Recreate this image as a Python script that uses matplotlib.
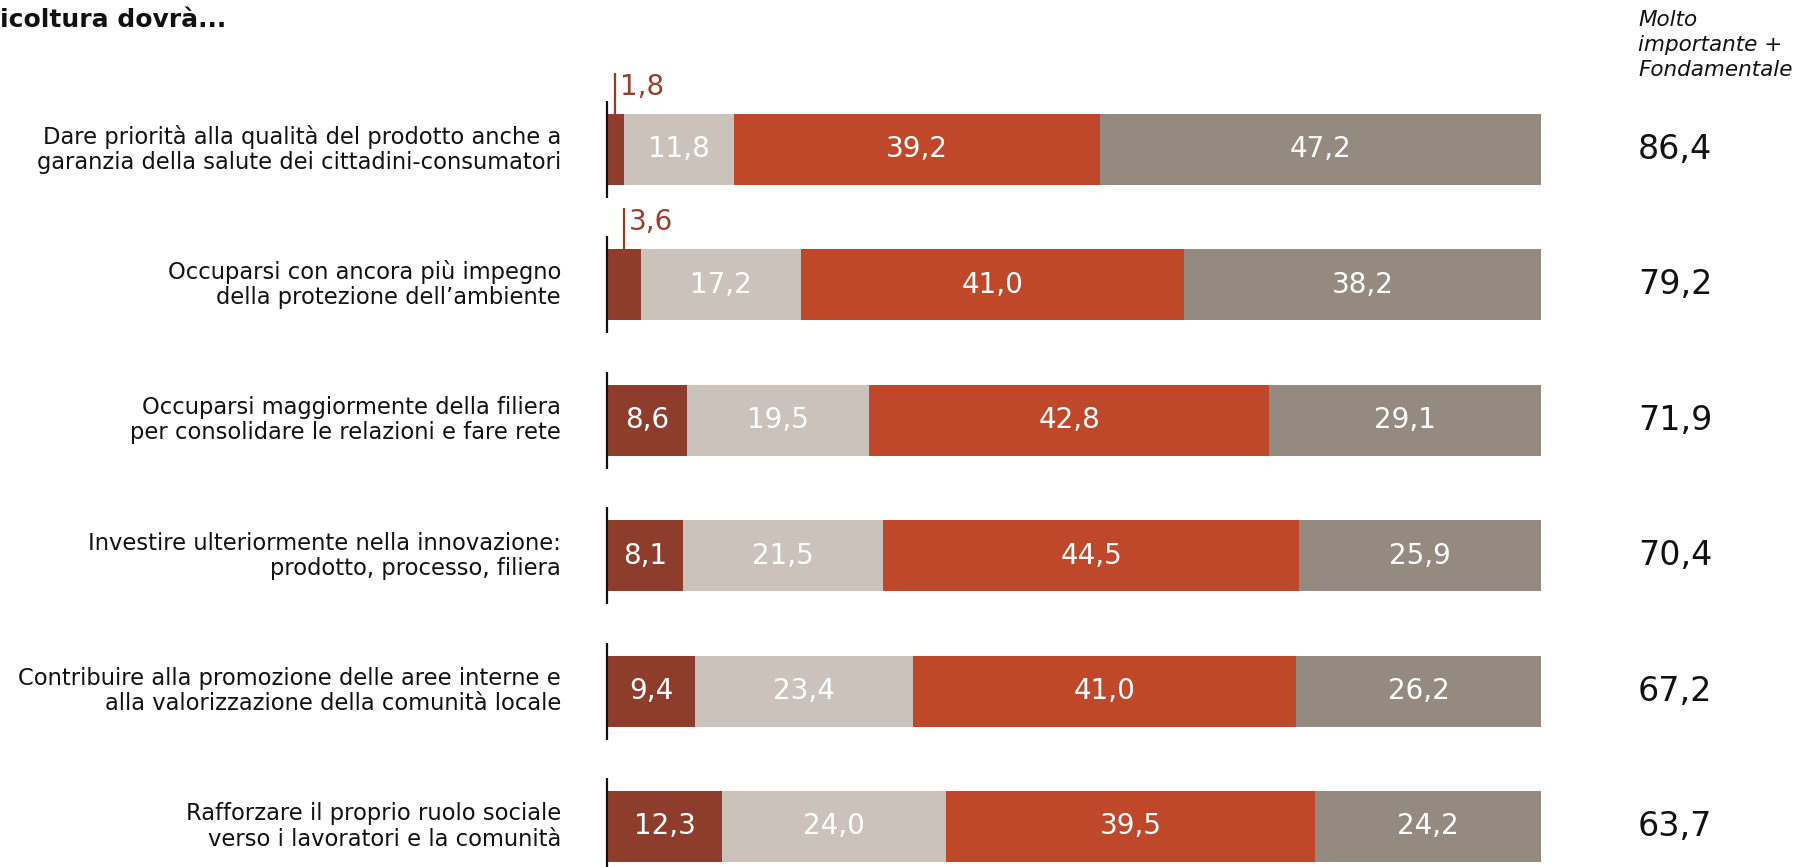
import matplotlib
matplotlib.use("Agg")
import matplotlib.pyplot as plt

plt.rcParams['font.family'] = ['DejaVu Sans']

categories = [
    "Dare priorità alla qualità del prodotto anche a\ngaranzia della salute dei cittadini-consumatori",
    "Occuparsi con ancora più impegno\ndella protezione dell’ambiente",
    "Occuparsi maggiormente della filiera\nper consolidare le relazioni e fare rete",
    "Investire ulteriormente nella innovazione:\nprodotto, processo, filiera",
    "Contribuire alla promozione delle aree interne e\nalla valorizzazione della comunità locale",
    "Rafforzare il proprio ruolo sociale\nverso i lavoratori e la comunità",
]
per_niente = [1.8, 3.6, 8.6, 8.1, 9.4, 12.3]
poco = [11.8, 17.2, 19.5, 21.5, 23.4, 24.0]
molto = [39.2, 41.0, 42.8, 44.5, 41.0, 39.5]
fondamentale = [47.2, 38.2, 29.1, 25.9, 26.2, 24.2]
molto_fond = [86.4, 79.2, 71.9, 70.4, 67.2, 63.7]

series = [per_niente, poco, molto, fondamentale]
colors = ["#8E3D2D", "#CAC2BB", "#C0482A", "#958A80"]

W, H = 1807, 867
fig = plt.figure(figsize=(W / 100, H / 100), dpi=100)
ax = fig.add_axes([0, 0, 1, 1])

# pixel layout helpers
x0, ppu = 607, 9.34        # axis x-position, pixels per percentage unit
y0, row = 149.5, 135.4     # first row centre, row spacing (pixels)
ax.set_xlim(-x0 / ppu, (W - x0) / ppu)
ax.set_ylim((H - y0) / row, -y0 / row)
ax.axis('off')

bar_h = 71 / row
fmt = lambda v: f"{v:.1f}".replace(".", ",")

for i in range(len(categories)):
    left = 0
    for vals, col in zip(series, colors):
        v = vals[i]
        ax.barh(i, v, left=left, height=bar_h, color=col, linewidth=0)
        if v >= 5:
            ax.text(left + v / 2, i, fmt(v), ha='center', va='center',
                    color='white', fontsize=20)
        else:
            top = i - bar_h / 2
            xc = left + v / 2
            ax.plot([xc, xc], [top, top - 41 / row], color=col, lw=1.6,
                    solid_capstyle='butt')
            ax.text(xc + 5 / ppu, top - 27 / row, fmt(v), ha='left',
                    va='center', color="#9A3F2C", fontsize=20)
        left += v
    # axis segment
    ax.plot([0, 0], [i - bar_h / 2 - 13 / row, i + bar_h / 2 + 13 / row],
            color='#111111', lw=1.6, solid_capstyle='butt')
    ax.text(-46 / ppu, i, categories[i], ha='right', va='center',
            fontsize=16.3, color='#111111', linespacing=1.12)
    ax.text((1638 - x0) / ppu, i, fmt(molto_fond[i]), ha='left', va='center',
            fontsize=24, color='#111111')

ax.text((1638 - x0) / ppu, (10 - y0) / row, "Molto\nimportante +\nFondamentale",
        ha='left', va='top', fontsize=15.5, style='italic', color='#111111',
        linespacing=1.3)

fig.text(0, 1 - 8 / H, "icoltura dovrà...", ha='left', va='top',
         fontsize=18, fontweight='bold', color='#111111')

fig.savefig("out.png", dpi=100)
